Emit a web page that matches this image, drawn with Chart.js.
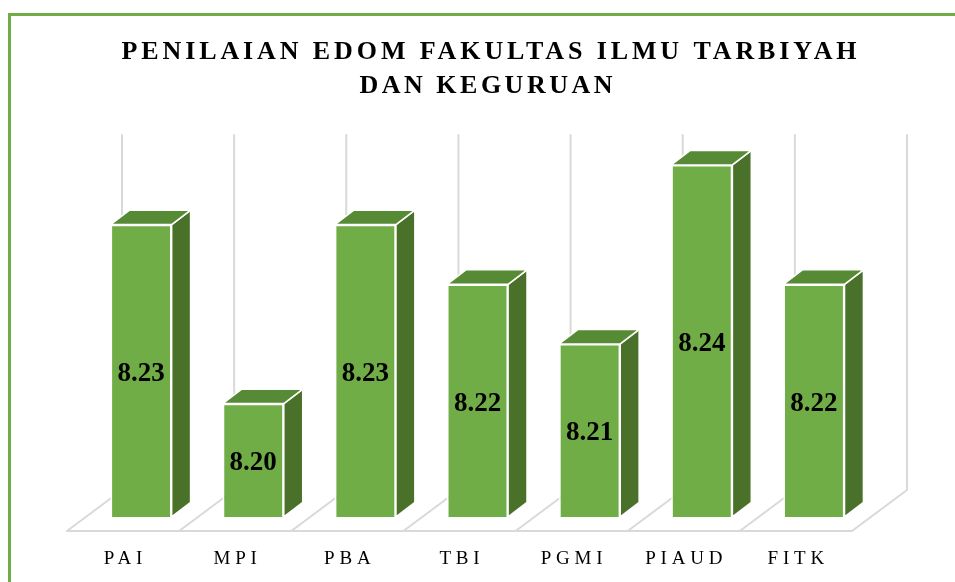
<!DOCTYPE html>
<html>
<head>
<meta charset="utf-8">
<title>Penilaian EDOM FITK</title>
<script src="https://cdn.jsdelivr.net/npm/chart.js@4.4.1/dist/chart.umd.min.js"></script>
<style>
    html, body { margin: 0; padding: 0; background: #ffffff; }
    canvas { display: block; }
</style>
</head>
<body>
<canvas id="edomChart" width="955" height="582"></canvas>
<script>
// data
const categories = ['PAI', 'MPI', 'PBA', 'TBI', 'PGMI', 'PIAUD', 'FITK'];
const scores = [8.23, 8.20, 8.23, 8.22, 8.21, 8.24, 8.22];
const titleLines = ['PENILAIAN EDOM FAKULTAS ILMU TARBIYAH', 'DAN KEGURUAN'];
const yMin = 8.181;
const yMax = 8.2405;

// fake 3d look, offsets in pixels relative to the bar plane
const barDepth = { dx: 19, dy: -14.5 };
const floorFront = { dx: -18, dy: 14 };
const floorBack = { dx: 37, dy: -27 };

const frontColor = '#70AD47';
const topColor = '#578A34';
const sideColor = '#4A712A';
const gridColor = '#D9D9D9';

function spacedText(ctx, text, x, y, spacing) {
    // canvas adds spacing after the last letter too, shift back half of it
    ctx.letterSpacing = spacing + 'px';
    ctx.fillText(text, x + spacing / 2, y);
    ctx.letterSpacing = '0px';
}

const edom3d = {
    id: 'edom3d',
    beforeDraw(chart) {
        const ctx = chart.ctx;
        ctx.save();
        ctx.fillStyle = '#ffffff';
        ctx.fillRect(0, 0, chart.width, chart.height);
        ctx.strokeStyle = frontColor;
        ctx.lineWidth = 3;
        ctx.beginPath();
        ctx.moveTo(9.5, chart.height);
        ctx.lineTo(9.5, 14.5);
        ctx.lineTo(chart.width, 14.5);
        ctx.stroke();
        ctx.restore();
    },
    beforeDatasetsDraw(chart) {
        const ctx = chart.ctx;
        const x = chart.scales.x;
        const y = chart.scales.y;
        const n = categories.length;
        const step = x.width / n;
        const first = x.getPixelForValue(0) - step / 2;
        const base = y.getPixelForValue(yMin);
        const wallTop = y.getPixelForValue(yMax) + floorBack.dy;
        const backY = base + floorBack.dy;
        const frontY = base + floorFront.dy;

        ctx.save();
        ctx.strokeStyle = gridColor;
        ctx.lineWidth = 2;
        ctx.lineCap = 'round';
        ctx.beginPath();
        for (let i = 0; i <= n; i++) {
            const b = first + i * step;
            ctx.moveTo(b + floorBack.dx, wallTop);
            ctx.lineTo(b + floorBack.dx, backY);
            ctx.moveTo(b + floorFront.dx, frontY);
            ctx.lineTo(b + floorBack.dx, backY);
        }
        ctx.moveTo(first + floorFront.dx, frontY);
        ctx.lineTo(first + n * step + floorFront.dx, frontY);
        ctx.stroke();
        ctx.restore();
    },
    afterDatasetsDraw(chart) {
        const ctx = chart.ctx;
        const x = chart.scales.x;
        const y = chart.scales.y;
        const meta = chart.getDatasetMeta(0);
        // bars start at zero and get clipped, so the visible bottom is the axis min
        const bottom = y.getPixelForValue(yMin);

        ctx.save();
        ctx.strokeStyle = '#ffffff';
        ctx.lineWidth = 1.6;
        ctx.lineJoin = 'round';
        meta.data.forEach((bar) => {
            const p = bar.getProps(['x', 'y', 'width'], true);
            const left = p.x - p.width / 2;
            const right = p.x + p.width / 2;

            // side face
            ctx.fillStyle = sideColor;
            ctx.beginPath();
            ctx.moveTo(right, p.y);
            ctx.lineTo(right + barDepth.dx, p.y + barDepth.dy);
            ctx.lineTo(right + barDepth.dx, bottom + barDepth.dy);
            ctx.lineTo(right, bottom);
            ctx.closePath();
            ctx.fill();
            ctx.stroke();

            // top face
            ctx.fillStyle = topColor;
            ctx.beginPath();
            ctx.moveTo(left, p.y);
            ctx.lineTo(left + barDepth.dx, p.y + barDepth.dy);
            ctx.lineTo(right + barDepth.dx, p.y + barDepth.dy);
            ctx.lineTo(right, p.y);
            ctx.closePath();
            ctx.fill();
            ctx.stroke();
        });

        // values in the middle of the bars
        ctx.fillStyle = '#000000';
        ctx.font = 'bold 27px "Liberation Serif", "Times New Roman", serif';
        ctx.textAlign = 'center';
        ctx.textBaseline = 'middle';
        meta.data.forEach((bar, i) => {
            const p = bar.getProps(['x', 'y'], true);
            ctx.fillText(scores[i].toFixed(2), p.x, (p.y + bottom) / 2 + 3);
        });

        // category labels sit under the front edge of the floor
        ctx.font = '19px "Liberation Serif", "Times New Roman", serif';
        ctx.textBaseline = 'alphabetic';
        categories.forEach((c, i) => {
            spacedText(ctx, c, x.getPixelForValue(i) + floorFront.dx, 564, 4.8);
        });

        // title
        ctx.font = 'bold 26px "Liberation Serif", "Times New Roman", serif';
        spacedText(ctx, titleLines[0], 489, 59, 3.9);
        spacedText(ctx, titleLines[1], 486, 93, 3.5);
        ctx.restore();
    }
};

new Chart(document.getElementById('edomChart'), {
    type: 'bar',
    data: {
        labels: categories,
        datasets: [{
            label: 'EDOM',
            data: scores,
            backgroundColor: frontColor,
            borderColor: '#ffffff',
            borderWidth: { top: 1.6, left: 1.6, right: 1.6, bottom: 0 },
            barPercentage: 0.545,
            categoryPercentage: 1
        }]
    },
    options: {
        responsive: false,
        animation: false,
        layout: {
            padding: { left: 85, right: 85, top: 162, bottom: 65 }
        },
        scales: {
            x: { display: false },
            y: { display: false, min: yMin, max: yMax }
        },
        plugins: {
            legend: { display: false },
            tooltip: { enabled: false },
            title: { display: false }
        }
    },
    plugins: [edom3d]
});
</script>
</body>
</html>
